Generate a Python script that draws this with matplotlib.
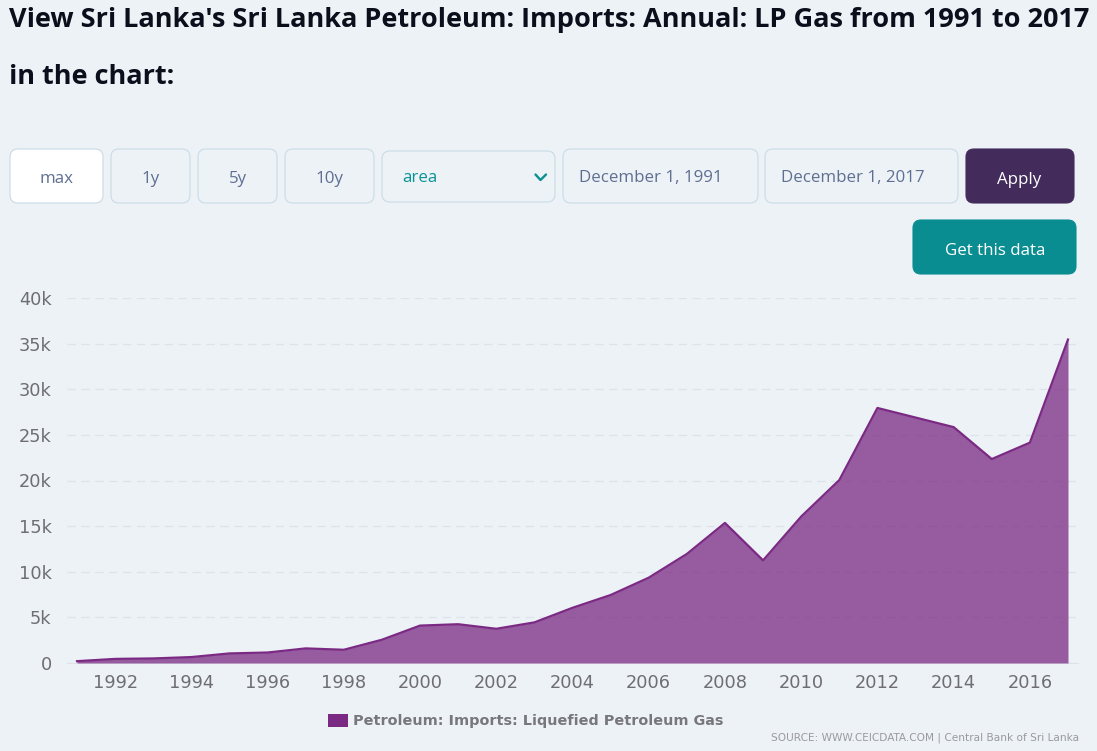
import matplotlib
matplotlib.use("Agg")
import matplotlib.pyplot as plt
from matplotlib.patches import FancyBboxPatch, Rectangle

W, H = 1097, 751
BG = "#edf2f7"
years = list(range(1991, 2018))
lpg_imports = [200, 450, 500, 650, 1050, 1150, 1600, 1450, 2550, 4100, 4250, 3750, 4450, 6050,
               7450, 9350, 11950, 15350, 11250, 16050, 20050, 27950, 26900, 25850, 22350, 24150, 35450]
y_ticks = [0, 5000, 10000, 15000, 20000, 25000, 30000, 35000, 40000]
y_labels = ["0", "5k", "10k", "15k", "20k", "25k", "30k", "35k", "40k"]
x_ticks = list(range(1992, 2017, 2))
series_name = "Petroleum: Imports: Liquefied Petroleum Gas"
source_text = "SOURCE: WWW.CEICDATA.COM | Central Bank of Sri Lanka"
title_lines = ["View Sri Lanka's Sri Lanka Petroleum: Imports: Annual: LP Gas from 1991 to 2017", "in the chart:"]

fig = plt.figure(figsize=(W / 100, H / 100), dpi=100, facecolor=BG)

# chart
L, R, T, B = 67, 1078, 298, 663
ax = fig.add_axes([L / W, 1 - B / H, (R - L) / W, (B - T) / H])
ax.set_facecolor("none")
pad = 10 / ((1068 - 77) / 26)
ax.set_xlim(1991 - pad, 2017 + pad)
ax.set_ylim(0, 40000)
PURPLE = "#7b2a83"
ax.fill_between(years, lpg_imports, 0, color=PURPLE, alpha=0.75, lw=0, zorder=3)
ax.plot(years, lpg_imports, color=PURPLE, lw=1.6, zorder=4, solid_joinstyle="round")
ax.yaxis.grid(True, color="#dde3e8", lw=1.0, linestyle=(0, (6, 4)), zorder=1)
ax.set_axisbelow(True)
for s in ax.spines.values():
    s.set_visible(False)
ax.spines["bottom"].set_visible(True)
ax.spines["bottom"].set_color("#dde3e8")
ax.set_xticks(x_ticks)
ax.set_yticks(y_ticks)
ax.set_yticklabels(y_labels)
ax.tick_params(axis="both", length=0, colors="#6e6e73", labelsize=12.8)
ax.tick_params(axis="x", pad=8)
ax.tick_params(axis="y", pad=11)
for lab in ax.get_yticklabels():
    lab.set_verticalalignment("center_baseline")

# page overlay in pixel coordinates
ui = fig.add_axes([0, 0, 1, 1], zorder=5)
ui.set_xlim(0, W)
ui.set_ylim(H, 0)
ui.axis("off")
ui.patch.set_alpha(0)

BODY = ["Open Sans", "DejaVu Sans"]
for txt, y in zip(title_lines, (20, 77)):
    ui.text(9, y, txt, fontsize=19.53, fontweight="bold", family=["Open Sans", "DejaVu Sans"],
            color="#0b0f1c", va="center", ha="left")


def box(x0, y0, x1, y1, text, fc=BG, ec="#c9dbe6", color="#5f6f92", tx=None, ty=None, size=12.2, r=8):
    ui.add_patch(FancyBboxPatch((x0 + r, y0 + r), x1 - x0 - 2 * r, y1 - y0 - 2 * r,
                                boxstyle=f"round,pad={r},rounding_size={r}", fc=fc, ec=ec, lw=0.8))
    ui.text((x0 + x1) / 2 if tx is None else tx, (y0 + y1) / 2 + 3 if ty is None else ty, text,
            fontsize=size, color=color, family=BODY,
            ha="center" if tx is None else "left", va="center")


box(10, 149, 103, 203, "max", fc="#ffffff")
box(111, 149, 190, 203, "1y")
box(198, 149, 277, 203, "5y")
box(285, 149, 374, 203, "10y")
box(382, 151, 555, 202, "area", color="#0a9396", tx=402, ty=178)
ui.plot([535.5, 540.5, 546], [174.5, 180, 174.5], color="#0a8f92", lw=1.7, solid_capstyle="round")
box(563, 149, 758, 203, "December 1, 1991", tx=579, ty=178)
box(765, 149, 958, 203, "December 1, 2017", tx=781, ty=178)
box(966, 149, 1074, 203, "Apply", fc="#432c5c", ec="#432c5c", color="#ffffff", tx=997, ty=180)
box(913, 220, 1076, 274, "Get this data", fc="#098d91", ec="#098d91", color="#ffffff", tx=945, ty=251)

# legend and source
ui.add_patch(Rectangle((328, 714), 20, 13, fc=PURPLE, ec="none"))
ui.text(353, 720.5, series_name, fontsize=10.37, fontweight="bold", color="#77777c",
        family="DejaVu Sans", va="center", ha="left")
ui.text(1079, 738, source_text, fontsize=7.6, color="#9a9a9e", family="DejaVu Sans", va="center", ha="right")

fig.savefig("out.png", dpi=100, facecolor=BG)
